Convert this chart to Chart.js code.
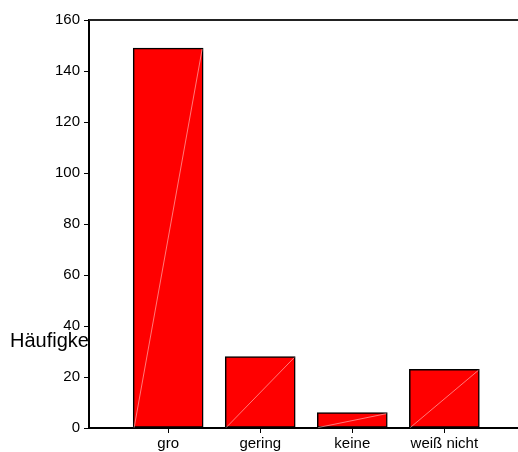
<!DOCTYPE html>
<html>
<head>
<meta charset="utf-8">
<script src="https://cdn.jsdelivr.net/npm/chart.js@4/dist/chart.umd.min.js"></script>
<style>
html,body{margin:0;padding:0;background:#fff;}
#wrap{width:518px;height:452px;position:relative;}
</style>
</head>
<body>
<div id="wrap"><canvas id="c" width="518" height="452"></canvas></div>
<script>
const categories = ["gro", "gering", "keine", "weiß nicht"];
const counts = [149, 28, 6, 23];
const yTicks = [0, 20, 40, 60, 80, 100, 120, 140, 160];
const yTitle = "Häufigkeit";

const FONT = "'Liberation Sans', Arial, sans-serif";

const framePlugin = {
  id: 'frame',
  beforeDraw(chart) {
    const ctx = chart.ctx, a = chart.chartArea;
    ctx.save();
    ctx.fillStyle = '#fff';
    ctx.fillRect(0, 0, chart.width, chart.height);
    ctx.font = "20px " + FONT;
    ctx.fillStyle = '#000';
    ctx.textBaseline = 'alphabetic';
    ctx.textAlign = 'left';
    ctx.fillText(yTitle, 10, 347);
    ctx.fillStyle = '#fff';
    ctx.fillRect(a.left, a.top, a.right - a.left, a.bottom - a.top);
    ctx.restore();
  },
  afterDraw(chart) {
    const ctx = chart.ctx, a = chart.chartArea;
    ctx.save();
    ctx.strokeStyle = '#222';
    ctx.lineWidth = 2;
    ctx.beginPath();
    ctx.moveTo(a.left, a.top);
    ctx.lineTo(a.right, a.top);
    ctx.stroke();
    ctx.restore();
  },
  afterDatasetsDraw(chart) {
    const ctx = chart.ctx;
    const meta = chart.getDatasetMeta(0);
    ctx.save();
    ctx.strokeStyle = 'rgba(255,190,190,0.8)';
    ctx.lineWidth = 0.8;
    meta.data.forEach(bar => {
      const p = bar.getProps(['x', 'y', 'base', 'width'], true);
      ctx.beginPath();
      ctx.moveTo(p.x - p.width / 2 + 1, p.base);
      ctx.lineTo(p.x + p.width / 2 - 1, p.y + 1);
      ctx.stroke();
    });
    ctx.restore();
  }
};

new Chart(document.getElementById('c'), {
  type: 'bar',
  data: {
    datasets: [{
      data: counts.map((v, i) => ({ x: i, y: v })),
      backgroundColor: '#ff0000',
      borderColor: '#000',
      borderWidth: 1.5,
      borderSkipped: false,
      barThickness: 70
    }]
  },
  options: {
    responsive: false,
    animation: false,
    layout: { padding: { top: 20, right: 0, left: 0, bottom: 0 } },
    plugins: { legend: { display: false }, tooltip: { enabled: false } },
    scales: {
      x: {
        type: 'linear',
        offset: false,
        min: -0.86,
        max: 3.8,
        afterBuildTicks(scale) { scale.ticks = categories.map((c, i) => ({ value: i })); },
        afterFit(scale) { scale.height = 24; },
        ticks: {
          autoSkip: false,
          maxRotation: 0,
          padding: 2,
          color: '#000',
          font: { family: FONT, size: 15 },
          callback: (v) => categories[v] ?? ''
        },
        grid: { offset: false, drawOnChartArea: false, drawTicks: true, tickLength: 5, color: '#000', lineWidth: 1 },
        border: { display: true, color: '#000', width: 2 }
      },
      y: {
        min: 0,
        max: 160,
        afterBuildTicks(scale) { scale.ticks = yTicks.map(v => ({ value: v })); },
        afterFit(scale) { scale.width = 89; },
        ticks: {
          padding: 4,
          color: '#000',
          font: { family: FONT, size: 15 }
        },
        grid: { drawOnChartArea: false, drawTicks: true, tickLength: 5, color: '#000', lineWidth: 1 },
        border: { display: true, color: '#000', width: 2 }
      }
    }
  },
  plugins: [framePlugin]
});
</script>
</body>
</html>
